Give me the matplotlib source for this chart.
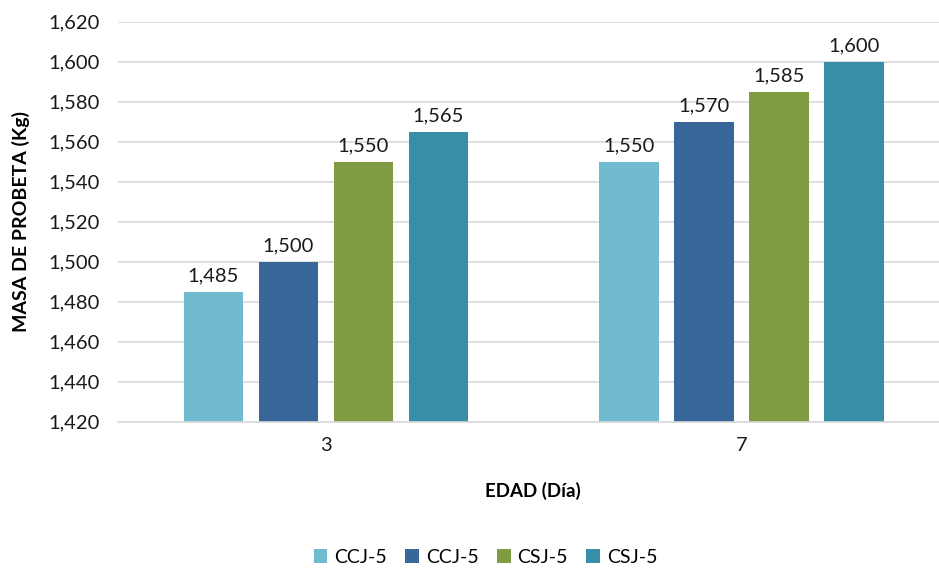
import matplotlib.pyplot as plt
import numpy as np

# ======================================
# Data
# ======================================
edades = ["3", "7"]
series = ["CCJ-5", "CCJ-5", "CSJ-5", "CSJ-5"]
masa = [
    [1.485, 1.550],
    [1.500, 1.570],
    [1.550, 1.585],
    [1.565, 1.600],
]
y_ticks = [1.420, 1.440, 1.460, 1.480, 1.500, 1.520, 1.540, 1.560, 1.580, 1.600, 1.620]

colors = ["#70BBCF", "#3A6799", "#7F9C42", "#378EA7"]

plt.rcParams.update({
    "font.family": ["Lato", "DejaVu Sans"],
    "font.size": 14.5,
})

fig = plt.figure(figsize=(9.39, 5.69), dpi=100, facecolor="white")
ax = fig.add_axes([0.1257, 0.259, 0.885, 0.703])

x = np.arange(len(edades))
bar_w = 0.143
step = 0.1805

for k, (name, vals, c) in enumerate(zip(series, masa, colors)):
    pos = x + (k - 1.5) * step
    ax.bar(pos, np.array(vals) - y_ticks[0], bottom=y_ticks[0], width=bar_w,
           color=c, label=name, zorder=2)
    for xi, v in zip(pos, vals):
        ax.annotate(f"{v:.3f}".replace(".", ","), xy=(xi, v), xytext=(0, 5),
                    textcoords="offset points", ha="center", va="bottom",
                    fontsize=14.5, color="#1A1A1A")

ax.set_xlim(-0.5, 1.5)
ax.set_ylim(y_ticks[0], y_ticks[-1])
ax.set_yticks(y_ticks)
ax.set_yticklabels([f"{t:.3f}".replace(".", ",") for t in y_ticks])
ax.set_xticks(x)
ax.set_xticklabels(edades)

ax.grid(axis="y", color="#D9D9D9", linewidth=1.2, zorder=0)
ax.set_axisbelow(True)
for s in ["top", "right", "left"]:
    ax.spines[s].set_visible(False)
ax.spines["bottom"].set_color("#D9D9D9")
ax.spines["bottom"].set_linewidth(1.2)
ax.tick_params(axis="both", length=0, colors="#1A1A1A", labelsize=14.5)
ax.tick_params(axis="y", pad=13)
ax.tick_params(axis="x", pad=11)

fig.text(0.022, 0.259 + 0.703 / 2, "MASA DE PROBETA (Kg)", rotation=90,
         ha="center", va="center", fontsize=14, fontweight="bold")
fig.text(0.568, 0.137, "EDAD (Día)", ha="center", va="center",
         fontsize=13.5, fontweight="bold")

fig.legend(loc="center", bbox_to_anchor=(0.517, 0.021), ncol=4, frameon=False,
           handlelength=0.7, handleheight=0.7, handletextpad=0.35,
           columnspacing=0.95, fontsize=14)

fig.savefig("out.png", dpi=100, facecolor="white")
